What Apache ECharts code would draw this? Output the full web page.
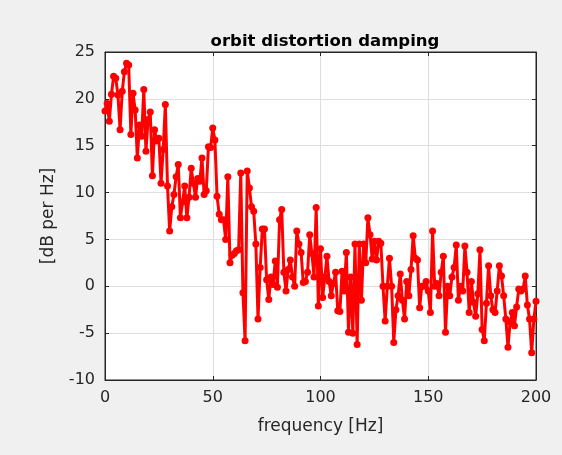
<!DOCTYPE html>
<html>
<head>
<meta charset="utf-8">
<script src="https://cdn.jsdelivr.net/npm/echarts@6/dist/echarts.min.js"></script>
<style>
  html, body { margin: 0; padding: 0; background: #f0f0f0; }
  #chart { width: 562px; height: 455px; }
</style>
</head>
<body>
<div id="chart"></div>
<script>
// frequency in Hz, one point per Hz
const freq = [];
for (let f = 0; f <= 200; f++) freq.push(f);

const damping = [
  18.7, 19.5, 17.6, 20.5, 22.4, 22.2, 20.4, 16.7, 20.8, 22.9,
  23.8, 23.6, 16.2, 20.6, 18.8, 13.7, 17.2, 16.0, 21.0, 14.4,
  17.8, 18.6, 11.8, 16.7, 15.5, 15.8, 11.0, 14.6, 19.4, 10.7,
  5.9, 8.5, 9.8, 11.7, 13.0, 7.3, 9.0, 10.7, 7.3, 9.5,
  12.6, 11.0, 9.5, 11.5, 11.2, 13.7, 9.8, 10.2, 14.9, 14.8,
  16.9, 15.6, 9.6, 7.7, 7.1, 7.1, 5.0, 11.7, 2.5, 3.3,
  3.5, 3.8, 3.9, 12.1, -0.7, -5.8, 12.3, 10.5, 8.5, 8.0,
  4.5, -3.5, 2.0, 6.1, 6.1, 0.7, -1.4, 1.0, 0.2, 2.7,
  -0.1, 7.1, 8.2, 1.5, -0.5, 1.8, 2.8, 1.0, 0.0, 5.9,
  4.5, 3.6, 0.4, 0.5, 1.5, 5.5, 3.5, 1.0, 8.4, -2.1,
  4.0, -1.2, 1.0, 3.2, 0.5, -1.0, 0.3, 1.5, -2.6, -2.7,
  1.6, -0.5, 3.6, -4.9, 1.0, -5.0, 4.5, -6.2, 4.5, -1.5,
  4.5, 2.5, 7.3, 5.5, 2.9, 4.8, 2.8, 4.8, 4.6, 0.0,
  -3.7, 0.0, 3.0, 0.0, -6.0, -2.5, -1.0, 1.3, -1.5, -3.5,
  0.5, -1.0, 1.8, 5.4, 3.0, 2.8, -2.3, 0.0, 0.0, 0.5,
  -0.5, -2.8, 5.9, 0.0, 0.3, -1.0, 1.5, 3.2, -4.9, 0.0,
  -1.0, 1.0, 2.0, 4.4, -1.5, 0.0, -0.5, 4.3, 1.5, -2.8,
  0.5, -1.7, -3.2, -0.8, 3.9, -4.6, -5.8, -1.8, 2.2, -1.0,
  -2.5, -2.8, -0.5, 2.2, 1.1, -1.0, -3.5, -6.5, -3.8, -2.8,
  -4.2, -2.2, -0.3, -0.5, -0.3, 1.1, -2.0, -3.5, -7.1, -3.5,
  -1.6
];

const titleText = "orbit distortion damping";
const xName = "frequency [Hz]";
const yName = "[dB per Hz]";

const textColor = "#262626";
const gridColor = "#dedede";

const chart = echarts.init(document.getElementById("chart"));
const option = {
  backgroundColor: "#f0f0f0",
  animation: false,
  title: {
    text: titleText,
    left: 320,
    textAlign: "center",
    top: 28,
    textStyle: {
      fontFamily: "DejaVu Sans",
      fontSize: 16.5,
      fontWeight: "bold",
      color: "#000"
    }
  },
  grid: {
    left: 105,
    right: 26,
    top: 52,
    bottom: 75,
    show: true,
    backgroundColor: "#fff",
    borderColor: textColor,
    borderWidth: 1
  },
  xAxis: [
    {
      type: "value",
      min: 0,
      max: 200,
      interval: 50,
      name: xName,
      nameLocation: "middle",
      nameGap: 38,
      nameTextStyle: { fontFamily: "DejaVu Sans", fontSize: 17, color: textColor },
      axisLine: { show: true, onZero: false, lineStyle: { color: textColor } },
      axisTick: { show: true, inside: true, length: 4, lineStyle: { color: textColor } },
      axisLabel: { fontFamily: "DejaVu Sans", fontSize: 16, color: textColor, margin: 10 },
      splitLine: { show: true, lineStyle: { color: gridColor } }
    },
    {
      type: "value",
      position: "top",
      min: 0,
      max: 200,
      interval: 50,
      axisLine: { show: true, onZero: false, lineStyle: { color: textColor } },
      axisTick: { show: true, inside: true, length: 4, lineStyle: { color: textColor } },
      axisLabel: { show: false },
      splitLine: { show: false }
    }
  ],
  yAxis: [
    {
      type: "value",
      min: -10,
      max: 25,
      interval: 5,
      name: yName,
      nameLocation: "middle",
      nameGap: 48,
      nameTextStyle: { fontFamily: "DejaVu Sans", fontSize: 17, color: textColor },
      axisLine: { show: true, onZero: false, lineStyle: { color: textColor } },
      axisTick: { show: true, inside: true, length: 4, lineStyle: { color: textColor } },
      axisLabel: { fontFamily: "DejaVu Sans", fontSize: 16, color: textColor, margin: 10 },
      splitLine: { show: true, lineStyle: { color: gridColor } }
    },
    {
      type: "value",
      position: "right",
      min: -10,
      max: 25,
      interval: 5,
      axisLine: { show: true, onZero: false, lineStyle: { color: textColor } },
      axisTick: { show: true, inside: true, length: 4, lineStyle: { color: textColor } },
      axisLabel: { show: false },
      splitLine: { show: false }
    }
  ],
  series: [
    {
      type: "line",
      data: freq.map((f, i) => [f, damping[i]]),
      xAxisIndex: 0,
      yAxisIndex: 0,
      symbol: "circle",
      symbolSize: 7,
      showSymbol: true,
      lineStyle: { color: "#ff0000", width: 3 },
      itemStyle: { color: "#ff0000" }
    }
  ]
};
chart.setOption(option);
</script>
</body>
</html>
